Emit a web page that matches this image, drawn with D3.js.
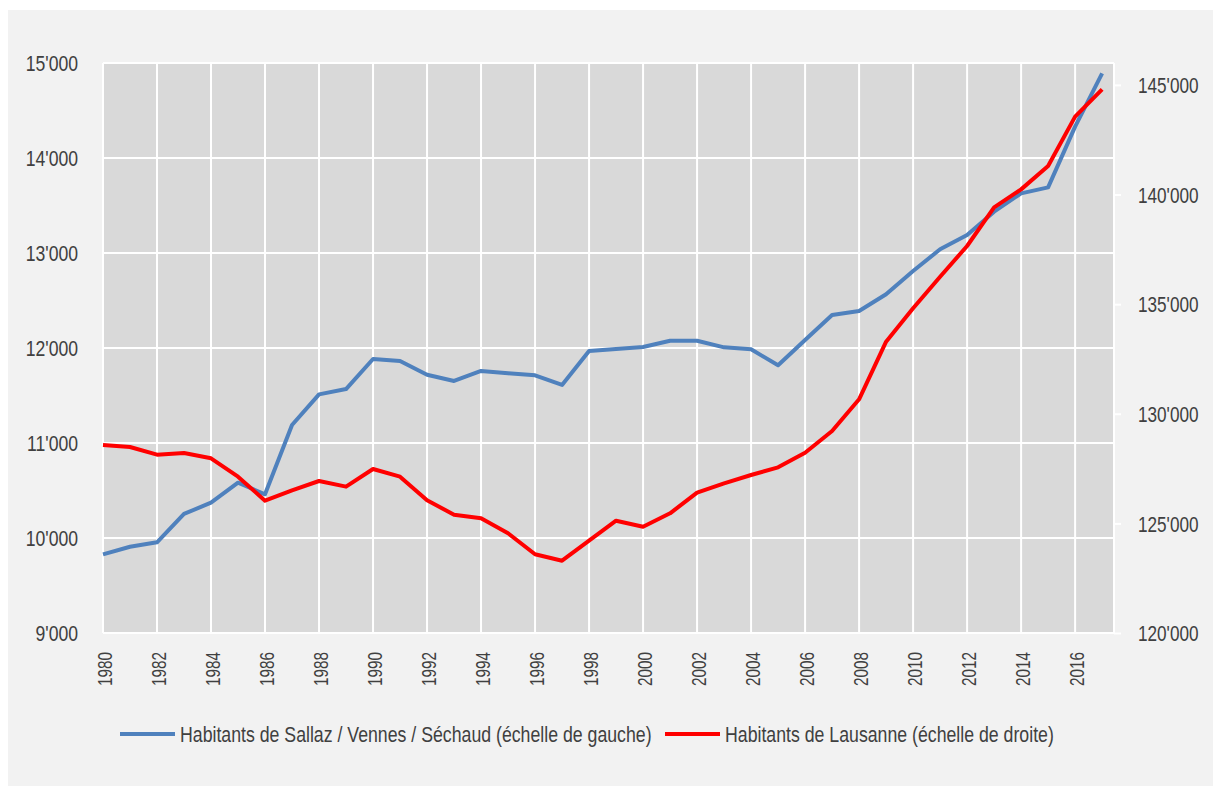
<!DOCTYPE html>
<html>
<head>
<meta charset="utf-8">
<script src="https://cdn.jsdelivr.net/npm/d3@7"></script>
<style>
  body { margin: 0; background: #ffffff; }
  text { font-family: "Liberation Sans", Arial, sans-serif; fill: #404040; }
</style>
</head>
<body>
<div id="chart"></div>
<script>
// années
var years = d3.range(1980, 2018);

// habitants Sallaz / Vennes / Séchaud (échelle de gauche)
var sallaz = [9828, 9908, 9955, 10253, 10372, 10582, 10460, 11189, 11512, 11568,
  11884, 11863, 11719, 11653, 11758, 11734, 11712, 11611, 11968, 11989,
  12011, 12077, 12077, 12007, 11986, 11818, 12084, 12347, 12389, 12565,
  12811, 13039, 13189, 13435, 13628, 13691, 14330, 14891];

// habitants Lausanne (échelle de droite)
var lausanne = [128576, 128484, 128133, 128211, 127968, 127130, 126035, 126509, 126933, 126675,
  127481, 127130, 126053, 125396, 125232, 124548, 123590, 123298, 124210, 125122,
  124849, 125459, 126400, 126828, 127207, 127558, 128224, 129214, 130660, 133288,
  134810, 136253, 137653, 139418, 140236, 141302, 143553, 144800];

var leftTicks = [9000, 10000, 11000, 12000, 13000, 14000, 15000];
var rightTicks = [120000, 125000, 130000, 135000, 140000, 145000];
var yearTicks = d3.range(1980, 2017, 2);

var seriesNames = ["Habitants de Sallaz / Vennes / Séchaud (échelle de gauche)",
  "Habitants de Lausanne (échelle de droite)"];
var seriesColors = ["#4f81bd", "#ff0000"];

var W = 1213, H = 787;
var margin = {top: 63, right: 99, bottom: 154, left: 103};
var width = W - margin.left - margin.right,
    height = H - margin.top - margin.bottom;

// police étroite : on resserre le texte dans le sens de la ligne
function squeeze(sel, k) {
  sel.each(function() {
    var t = d3.select(this);
    var x0 = +t.attr("x") || 0;
    var tr = t.attr("transform") || "";
    t.attr("x", x0 / k).attr("transform", tr + " scale(" + k + ",1)");
  });
}

var svg = d3.select("#chart").append("svg")
  .attr("width", W)
  .attr("height", H);

// fond extérieur
svg.append("rect")
  .attr("x", 8).attr("y", 10)
  .attr("width", W - 8).attr("height", 776)
  .attr("fill", "#f2f2f2");

var g = svg.append("g")
  .attr("transform", "translate(" + margin.left + "," + margin.top + ")");

var x = d3.scaleLinear()
  .domain([1980, 2017.44])
  .range([0, width]);

var yL = d3.scaleLinear()
  .domain([9000, 15000])
  .range([height, 0]);

var yR = d3.scaleLinear()
  .domain([120000, 146000])
  .range([height, 0]);

var fmt = function(v) { return d3.format(",")(v).replace(/,/g, "'"); };

g.append("rect")
  .attr("width", width)
  .attr("height", height)
  .attr("fill", "#d9d9d9");

// grille
g.selectAll(".hgrid")
  .data(leftTicks)
  .enter().append("line")
  .attr("class", "hgrid")
  .attr("x1", 0).attr("x2", width)
  .attr("y1", function(d) { return yL(d); })
  .attr("y2", function(d) { return yL(d); })
  .attr("stroke", "#fff").attr("stroke-width", 2);

g.selectAll(".vgrid")
  .data(yearTicks)
  .enter().append("line")
  .attr("class", "vgrid")
  .attr("y1", 0).attr("y2", height)
  .attr("x1", function(d) { return x(d); })
  .attr("x2", function(d) { return x(d); })
  .attr("stroke", "#fff").attr("stroke-width", 2);

g.append("line")
  .attr("x1", width).attr("x2", width)
  .attr("y1", 0).attr("y2", height)
  .attr("stroke", "#fff").attr("stroke-width", 2);

// axe gauche
var axL = g.append("g")
  .call(d3.axisLeft(yL).tickValues(leftTicks).tickFormat(fmt).tickSize(0).tickPadding(25));
axL.select(".domain").remove();
axL.selectAll("text")
  .style("font-size", "22px")
  .attr("dy", "0.35em")
  .call(squeeze, 0.8);

// axe droit
var axR = g.append("g")
  .attr("transform", "translate(" + width + ",0)")
  .call(d3.axisRight(yR).tickValues(rightTicks).tickFormat(fmt).tickSize(7).tickPadding(17));
axR.select(".domain").remove();
axR.selectAll("line").attr("stroke", "#fff").attr("stroke-width", 2);
axR.selectAll("text")
  .style("font-size", "22px")
  .attr("dy", "0.35em")
  .call(squeeze, 0.78);

// axe des années
var axX = g.append("g")
  .attr("transform", "translate(0," + height + ")")
  .call(d3.axisBottom(x).tickValues(yearTicks).tickFormat(d3.format("d")).tickSize(0));
axX.select(".domain").remove();
axX.selectAll("text")
  .style("font-size", "21px")
  .attr("text-anchor", "end")
  .attr("transform", "rotate(-90)")
  .attr("x", -19)
  .attr("y", 1)
  .attr("dy", "0.36em")
  .call(squeeze, 0.73);

// courbes
var lineL = d3.line()
  .x(function(d, i) { return x(years[i]); })
  .y(function(d) { return yL(d); });

var lineR = d3.line()
  .x(function(d, i) { return x(years[i]); })
  .y(function(d) { return yR(d); });

g.append("path")
  .datum(sallaz)
  .attr("d", lineL)
  .attr("fill", "none")
  .attr("stroke", seriesColors[0])
  .attr("stroke-width", 4)
  .attr("stroke-linejoin", "round");

g.append("path")
  .datum(lausanne)
  .attr("d", lineR)
  .attr("fill", "none")
  .attr("stroke", seriesColors[1])
  .attr("stroke-width", 4)
  .attr("stroke-linejoin", "round");

// légende
var legX = [120, 665];
var leg = svg.selectAll(".leg")
  .data(seriesNames)
  .enter().append("g")
  .attr("class", "leg")
  .attr("transform", function(d, i) { return "translate(" + legX[i] + ",734)"; });

leg.append("line")
  .attr("x1", 0).attr("x2", 55)
  .attr("stroke", function(d, i) { return seriesColors[i]; })
  .attr("stroke-width", 4);

leg.append("text")
  .attr("x", 60)
  .attr("dy", "0.35em")
  .style("font-size", "22px")
  .text(function(d) { return d; })
  .call(squeeze, 0.805);
</script>
</body>
</html>
